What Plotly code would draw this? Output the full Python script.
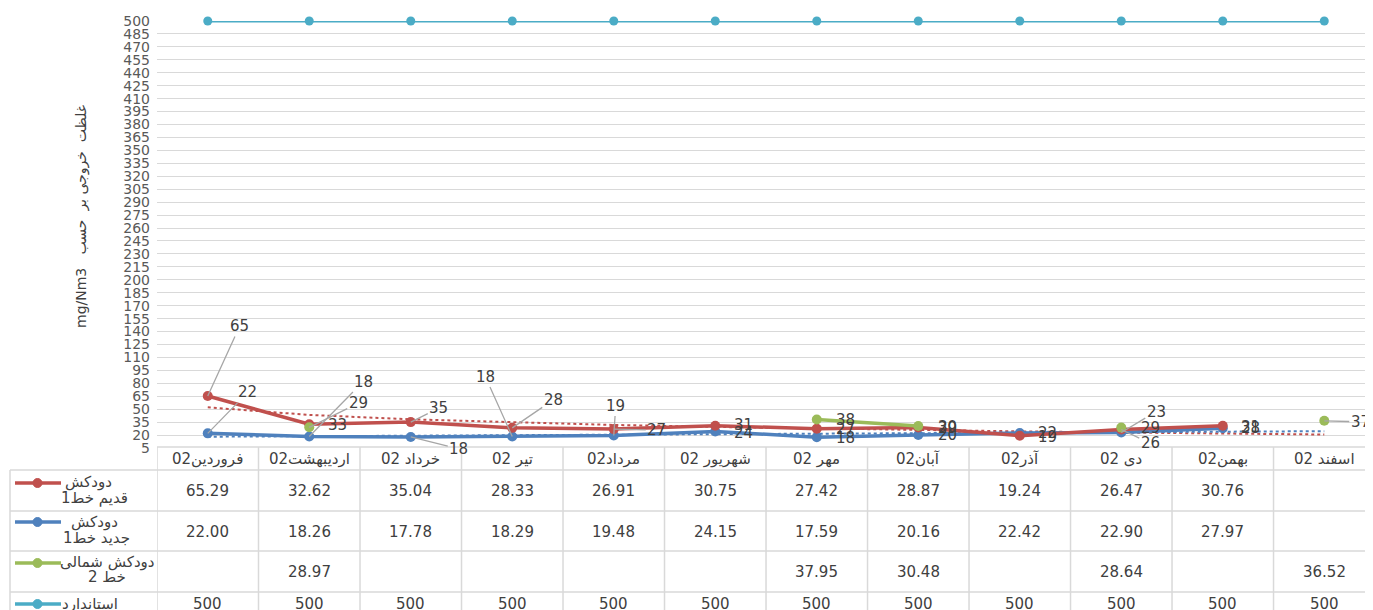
import numpy as np
import plotly.graph_objects as go

# ---------------- data ----------------
months = ["فروردین02", "اردیبهشت02", "خرداد 02", "تیر 02", "مرداد02", "شهریور 02",
          "مهر 02", "آبان02", "آذر02", "دی 02", "بهمن02", "اسفند 02"]
old_line1 = [65.29, 32.62, 35.04, 28.33, 26.91, 30.75, 27.42, 28.87, 19.24, 26.47, 30.76, None]
new_line1 = [22.00, 18.26, 17.78, 18.29, 19.48, 24.15, 17.59, 20.16, 22.42, 22.90, 27.97, None]
north_line2 = [None, 28.97, None, None, None, None, 37.95, 30.48, None, 28.64, None, 36.52]
standard = [500, 500, 500, 500, 500, 500, 500, 500, 500, 500, 500, 500]
y_ticks = list(range(5, 501, 15))

name_old = ["دودکش", "قدیم خط1"]
name_new = ["دودکش", "جدید خط1"]
name_north = ["دودکش شمالی", "خط 2"]
name_std = ["استاندارد"]
y_title = "mg/Nm3\u00a0\u00a0\u00a0غلظت\u00a0\u00a0خروجی\u00a0بر\u00a0\u00a0حسب"

# ---------------- style ----------------
RED, BLUE, GREEN, CYAN = "#C0504D", "#4F81BD", "#9BBB59", "#4BACC6"
GRID = "#D9D9D9"
TXT = "#404040"
FONT = "DejaVu Sans"

OFF = 8  # page body margin
W, H = 1373 - OFF, 610 - OFF
L, R, T = 157 - OFF, 0, 21 - OFF
B = H - (448 - OFF)
PW, PH = W - L - R, H - T - B


def px(xw):
    return (xw - OFF - L) / PW


def py(yw):
    return (H - B - (yw - OFF)) / PH


x = list(range(len(months)))
fig = go.Figure()


def trend(vals, kind):
    xs = np.array([i + 1 for i, v in enumerate(vals) if v is not None], dtype=float)
    ys = np.array([v for v in vals if v is not None], dtype=float)
    xall = np.arange(1, len(months) + 1, dtype=float)
    if kind == "log":
        b, a = np.polyfit(np.log(xs), ys, 1)
        return a + b * np.log(xall)
    b, a = np.polyfit(xs, ys, 1)
    return a + b * xall


fig.add_trace(go.Scatter(x=x, y=trend(old_line1, "log"), mode="lines",
                         line=dict(color=RED, width=2, dash="dot"), hoverinfo="skip"))
fig.add_trace(go.Scatter(x=x, y=trend(new_line1, "lin"), mode="lines",
                         line=dict(color=BLUE, width=2, dash="dot"), hoverinfo="skip"))

for vals, col, w, s in [(standard, CYAN, 3, 9), (new_line1, BLUE, 3.5, 10),
                        (old_line1, RED, 3.5, 10), (north_line2, GREEN, 3.5, 10)]:
    fig.add_trace(go.Scatter(x=x, y=vals, mode="lines+markers", connectgaps=False,
                             line=dict(color=col, width=w), marker=dict(color=col, size=s),
                             cliponaxis=False))

ann = []
# data labels: (series values, index, dx, dy, leader)
label_spec = [
    (old_line1, 0, 32, -70, True), (new_line1, 0, 40, -41, True),
    (old_line1, 1, 28, 1, False), (new_line1, 1, 54, -55, True), (north_line2, 1, 49, -24, True),
    (old_line1, 2, 28, -14, True), (new_line1, 2, 48, 12, True),
    (new_line1, 3, -27, -60, True), (old_line1, 3, 41, -28, True),
    (new_line1, 4, 2, -30, True), (old_line1, 4, 43, 1, True),
    (old_line1, 5, 28, -1, False), (new_line1, 5, 28, 2, False),
    (north_line2, 6, 29, 0, False), (old_line1, 6, 29, 0, False), (new_line1, 6, 29, 1, False),
    (north_line2, 7, 29, 1, False), (old_line1, 7, 29, 1, False), (new_line1, 7, 29, 0, False),
    (new_line1, 8, 28, 0, False), (old_line1, 8, 28, 1, False),
    (new_line1, 9, 35, -21, True), (north_line2, 9, 29, 0, False), (old_line1, 9, 29, 14, True),
    (old_line1, 10, 28, 1, False), (new_line1, 10, 28, 0, False),
    (north_line2, 11, 36, 1, True),
]
for vals, i, dx, dy, leader in label_spec:
    v = vals[i]
    base = dict(x=i, y=v, xref="x", yref="y", text=str(int(round(v))),
                xanchor="center", yanchor="middle",
                font=dict(family=FONT, size=15, color=TXT))
    if leader:
        base.update(showarrow=True, arrowhead=0, arrowwidth=1.3, arrowcolor="#A6A6A6",
                    ax=dx, ay=dy, standoff=0)
    else:
        base.update(showarrow=False, xshift=dx, yshift=-dy)
    ann.append(base)

# ---------------- data table ----------------
shapes = []
line_style = dict(color=GRID, width=1.5)
shapes.append(dict(type="line", xref="paper", yref="paper", x0=0, x1=1, y0=py(447), y1=py(447), line=line_style))
for yy in [470, 511, 551, 592]:
    shapes.append(dict(type="line", xref="paper", yref="paper", x0=px(10), x1=1, y0=py(yy), y1=py(yy), line=line_style))
shapes.append(dict(type="line", xref="paper", yref="paper", x0=px(10), x1=px(10), y0=py(470), y1=py(612), line=line_style))
for k in range(len(months) + 1):
    shapes.append(dict(type="line", xref="x", yref="paper", x0=k - 0.5, x1=k - 0.5,
                       y0=py(447), y1=py(612), line=line_style))

cell_font = dict(family=FONT, size=15, color=TXT)
for i, m in enumerate(months):
    ann.append(dict(x=i, y=py(459), xref="x", yref="paper", text=m, showarrow=False,
                    xanchor="center", yanchor="middle",
                    font=dict(family=FONT, size=15, color=TXT)))
rows = [(old_line1, 491, "{:.2f}"), (new_line1, 532, "{:.2f}"),
        (north_line2, 572, "{:.2f}"), (standard, 604, "{:.0f}")]
for vals, yy, fmt in rows:
    for i, v in enumerate(vals):
        if v is None:
            continue
        ann.append(dict(x=i, y=py(yy), xref="x", yref="paper", text=fmt.format(v),
                        xanchor="center", yanchor="middle",
                        showarrow=False, font=cell_font))

# legend keys inside table
leg = [(RED, 483, name_old, [(88, 482), (94, 498)]),
       (BLUE, 522, name_new, [(94, 522), (96, 538)]),
       (GREEN, 563, name_north, [(107, 562), (107, 577)]),
       (CYAN, 604, name_std, [(90, 604)])]
leg_font = dict(family=FONT, size=15, color=TXT)
for col, ly, names, pos in leg:
    shapes.append(dict(type="line", xref="paper", yref="paper", x0=px(15), x1=px(61),
                       y0=py(ly), y1=py(ly), line=dict(color=col, width=3.5)))
    shapes.append(dict(type="circle", xref="paper", yref="paper", fillcolor=col,
                       line=dict(color=col, width=1),
                       x0=px(33), x1=px(42), y0=py(ly + 4.5), y1=py(ly - 4.5)))
    for nm, (tx, ty) in zip(names, pos):
        ann.append(dict(x=px(tx), y=py(ty), xref="paper", yref="paper", text=nm,
                        xanchor="center", yanchor="middle",
                        showarrow=False, font=leg_font))

# y axis title
ann.append(dict(x=px(82), y=py(217), xref="paper", yref="paper", text=y_title,
                xanchor="center", yanchor="middle",
                textangle=-90, showarrow=False, font=dict(family=FONT, size=14, color=TXT)))

fig.update_layout(
    width=W, height=H, margin=dict(l=L, r=R, t=T, b=B),
    paper_bgcolor="white", plot_bgcolor="white", showlegend=False,
    annotations=ann, shapes=shapes,
    xaxis=dict(range=[-0.5, 11.48], showticklabels=False, showgrid=False, zeroline=False,
               showline=False, ticks=""),
    yaxis=dict(range=[5, 500], tickvals=y_ticks, showgrid=True, gridcolor=GRID, gridwidth=1,
               zeroline=False, showline=False, ticks="", ticklabelstandoff=6,
               tickfont=dict(family=FONT, size=14, color="#595959")),
)

fig.write_html("out.html")
